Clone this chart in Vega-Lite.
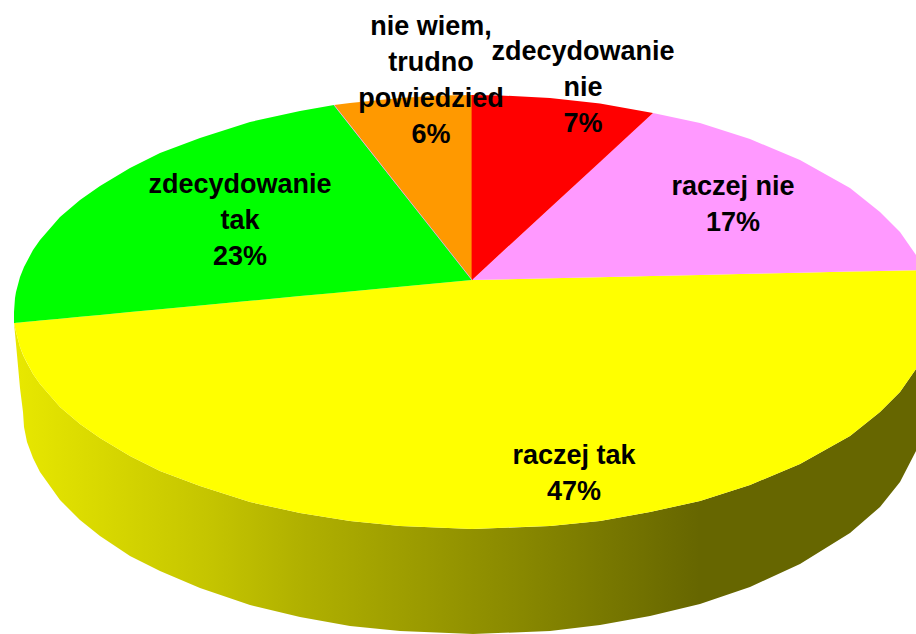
{
"$schema":"https://vega.github.io/schema/vega-lite/v6.json",
"width":916,"height":634,"padding":0,"autosize":{"type":"none"},"background":"white",
"config":{"view":{"stroke":null},"axis":{"disable":true}},
"datasets":{
"side":[
{"x":14,"y":323,"y2":323},{"x":16,"y":332,"y2":344},{"x":20,"y":347,"y2":388},{"x":23,"y":355,"y2":412},{"x":24,"y":357,"y2":427},{"x":27,"y":363,"y2":442},{"x":33,"y":374,"y2":458},{"x":40,"y":384,"y2":472},{"x":60,"y":407,"y2":500},{"x":80,"y":424,"y2":520},{"x":100,"y":438,"y2":536},{"x":130,"y":456,"y2":556},{"x":160,"y":471,"y2":571},{"x":200,"y":486,"y2":588},{"x":250,"y":502,"y2":605},{"x":300,"y":513,"y2":617},{"x":350,"y":521,"y2":626},{"x":400,"y":526,"y2":631},{"x":473,"y":529,"y2":634},{"x":550,"y":526,"y2":631},{"x":600,"y":521,"y2":625},{"x":650,"y":512,"y2":616},{"x":700,"y":501,"y2":604},{"x":750,"y":485,"y2":587},{"x":800,"y":464,"y2":564},{"x":850,"y":436,"y2":533},{"x":880,"y":412,"y2":507},{"x":900,"y":392,"y2":482},{"x":916,"y":369,"y2":451}
],
"slices":[
{"slice":"raczej tak","x":14,"y":323,"y2":323},{"slice":"raczej tak","x":16,"y":322.8,"y2":332},{"slice":"raczej tak","x":20,"y":322.4,"y2":347},{"slice":"raczej tak","x":24,"y":322,"y2":357},{"slice":"raczej tak","x":33,"y":321.2,"y2":374},{"slice":"raczej tak","x":40,"y":320.6,"y2":384},{"slice":"raczej tak","x":60,"y":318.7,"y2":407},{"slice":"raczej tak","x":80,"y":316.8,"y2":424},{"slice":"raczej tak","x":100,"y":314.9,"y2":438},{"slice":"raczej tak","x":130,"y":312.1,"y2":456},{"slice":"raczej tak","x":160,"y":309.3,"y2":471},{"slice":"raczej tak","x":200,"y":305.5,"y2":486},{"slice":"raczej tak","x":250,"y":300.8,"y2":502},{"slice":"raczej tak","x":300,"y":296.1,"y2":513},{"slice":"raczej tak","x":350,"y":291.4,"y2":521},{"slice":"raczej tak","x":400,"y":286.8,"y2":526},{"slice":"raczej tak","x":472,"y":280,"y2":529},{"slice":"raczej tak","x":550,"y":278.3,"y2":526},{"slice":"raczej tak","x":600,"y":277.2,"y2":521},{"slice":"raczej tak","x":650,"y":276,"y2":512},{"slice":"raczej tak","x":700,"y":274.9,"y2":501},{"slice":"raczej tak","x":750,"y":273.8,"y2":485},{"slice":"raczej tak","x":800,"y":272.7,"y2":464},{"slice":"raczej tak","x":850,"y":271.6,"y2":436},{"slice":"raczej tak","x":880,"y":270.9,"y2":412},{"slice":"raczej tak","x":900,"y":270.5,"y2":392},{"slice":"raczej tak","x":916,"y":270.2,"y2":369},{"slice":"raczej tak","x":923,"y":270,"y2":355},
{"slice":"raczej nie","x":472,"y":280,"y2":280},{"slice":"raczej nie","x":653,"y":113,"y2":276},{"slice":"raczej nie","x":700,"y":123,"y2":274.9},{"slice":"raczej nie","x":750,"y":139,"y2":273.8},{"slice":"raczej nie","x":800,"y":160,"y2":272.7},{"slice":"raczej nie","x":850,"y":188,"y2":271.6},{"slice":"raczej nie","x":880,"y":212,"y2":270.9},{"slice":"raczej nie","x":900,"y":232,"y2":270.5},{"slice":"raczej nie","x":916,"y":255,"y2":270.2},{"slice":"raczej nie","x":923,"y":269,"y2":270},
{"slice":"zdecydowanie nie","x":472,"y":95,"y2":280},{"slice":"zdecydowanie nie","x":500,"y":95.4,"y2":254},{"slice":"zdecydowanie nie","x":550,"y":98,"y2":208},{"slice":"zdecydowanie nie","x":600,"y":103.5,"y2":162},{"slice":"zdecydowanie nie","x":653,"y":113,"y2":113},
{"slice":"nie wiem","x":334,"y":105,"y2":105},{"slice":"nie wiem","x":350,"y":103,"y2":125},{"slice":"nie wiem","x":400,"y":98,"y2":189},{"slice":"nie wiem","x":440,"y":95.6,"y2":239},{"slice":"nie wiem","x":472,"y":95,"y2":280},
{"slice":"zdecydowanie tak","x":14,"y":312,"y2":323},{"slice":"zdecydowanie tak","x":15,"y":298,"y2":322.9},{"slice":"zdecydowanie tak","x":16,"y":292,"y2":322.8},{"slice":"zdecydowanie tak","x":20,"y":277,"y2":322.4},{"slice":"zdecydowanie tak","x":24,"y":267,"y2":322},{"slice":"zdecydowanie tak","x":33,"y":250,"y2":321.2},{"slice":"zdecydowanie tak","x":40,"y":240,"y2":320.6},{"slice":"zdecydowanie tak","x":60,"y":217,"y2":318.7},{"slice":"zdecydowanie tak","x":80,"y":200,"y2":316.8},{"slice":"zdecydowanie tak","x":100,"y":186,"y2":314.9},{"slice":"zdecydowanie tak","x":130,"y":168,"y2":312.1},{"slice":"zdecydowanie tak","x":160,"y":153,"y2":309.3},{"slice":"zdecydowanie tak","x":200,"y":138,"y2":305.5},{"slice":"zdecydowanie tak","x":250,"y":122,"y2":300.8},{"slice":"zdecydowanie tak","x":300,"y":111,"y2":296.1},{"slice":"zdecydowanie tak","x":334,"y":105,"y2":293},{"slice":"zdecydowanie tak","x":400,"y":189,"y2":286.8},{"slice":"zdecydowanie tak","x":440,"y":239,"y2":283},{"slice":"zdecydowanie tak","x":472,"y":280,"y2":280}
],
"edges":[
{"edge":"white","x":472,"y":95,"x2":472,"y2":280},
{"edge":"brown","x":334,"y":105,"x2":472,"y2":280}
],
"labels":[
{"label":"zdecydowanie\nnie\n7%","x":583,"y":52},
{"label":"raczej nie\n17%","x":733,"y":187},
{"label":"raczej tak\n47%","x":574,"y":456},
{"label":"zdecydowanie\ntak\n23%","x":240,"y":185},
{"label":"nie wiem,\ntrudno\npowiedzied\n6%","x":431,"y":27}
]},
"layer":[
{"data":{"name":"side"},
 "mark":{"type":"area","clip":true,"color":{"gradient":"linear","x1":0,"x2":1,"y1":0,"y2":0,"stops":[{"offset":0,"color":"#e8e800"},{"offset":0.22,"color":"#c4c400"},{"offset":0.32,"color":"#b0b000"},{"offset":0.54,"color":"#8c8c00"},{"offset":0.76,"color":"#666600"},{"offset":1,"color":"#666600"}]}},
 "encoding":{
  "x":{"field":"x","type":"quantitative","scale":{"domain":[0,916]},"axis":null},
  "y":{"field":"y","type":"quantitative","scale":{"domain":[634,0]},"axis":null},
  "y2":{"field":"y2"}}},
{"data":{"name":"slices"},
 "mark":{"type":"area","clip":true},
 "encoding":{
  "x":{"field":"x","type":"quantitative","scale":{"domain":[0,916]},"axis":null},
  "y":{"field":"y","type":"quantitative","scale":{"domain":[634,0]},"axis":null},
  "y2":{"field":"y2"},
  "color":{"field":"slice","type":"nominal","legend":null,"scale":{"domain":["zdecydowanie nie","raczej nie","raczej tak","zdecydowanie tak","nie wiem"],"range":["#ff0000","#ff99ff","#ffff00","#00ff00","#ff9900"]}}}},
{"data":{"name":"edges"},
 "mark":{"type":"rule","strokeWidth":1,"opacity":0.8},
 "encoding":{
  "x":{"field":"x","type":"quantitative","scale":{"domain":[0,916]},"axis":null},
  "y":{"field":"y","type":"quantitative","scale":{"domain":[634,0]},"axis":null},
  "x2":{"field":"x2"},"y2":{"field":"y2"},
  "color":{"field":"edge","type":"nominal","legend":null,"scale":{"domain":["white","brown"],"range":["#ffffff","#9a6a10"]}}}},
{"data":{"name":"labels"},
 "mark":{"type":"text","font":"Liberation Sans","fontWeight":"bold","fontSize":27,"lineHeight":36,"lineBreak":"\n","align":"center","baseline":"middle","color":"#000000"},
 "encoding":{
  "x":{"field":"x","type":"quantitative","scale":{"domain":[0,916]},"axis":null},
  "y":{"field":"y","type":"quantitative","scale":{"domain":[634,0]},"axis":null},
  "text":{"field":"label"}}}
]
}
